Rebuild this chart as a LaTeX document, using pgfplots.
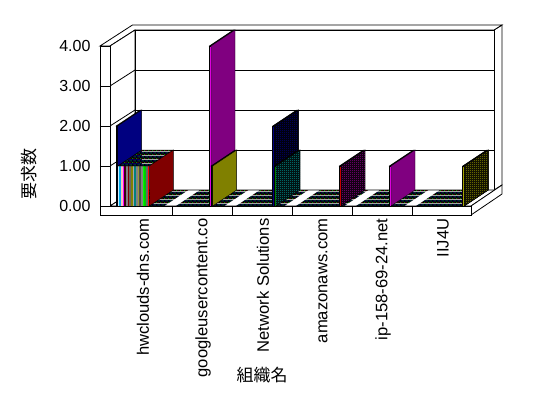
\documentclass[border=0pt]{standalone}
\usepackage{fontspec}
\setmainfont{Liberation Sans}
\newfontfamily\cjk{Noto Sans CJK JP}
\usepackage{pgfplots}
\pgfplotsset{compat=1.18}
\usetikzlibrary{patterns}

\pgfdeclarepatterninherentlycolored{floordots}{\pgfpointorigin}{\pgfpoint{4bp}{4bp}}{\pgfpoint{4bp}{4bp}}{%
  \pgfsetfillcolor{black}\pgfpathrectangle{\pgfpointorigin}{\pgfpoint{4bp}{4bp}}\pgfusepath{fill}%
  \pgfsetfillcolor{green!55!black}\pgfpathrectangle{\pgfpoint{0bp}{0bp}}{\pgfpoint{1bp}{1bp}}\pgfusepath{fill}%
  \pgfsetfillcolor{red!60!black}\pgfpathrectangle{\pgfpoint{2bp}{0bp}}{\pgfpoint{1bp}{1bp}}\pgfusepath{fill}%
  \pgfsetfillcolor{blue!70!black}\pgfpathrectangle{\pgfpoint{1bp}{2bp}}{\pgfpoint{1bp}{1bp}}\pgfusepath{fill}%
  \pgfsetfillcolor{teal!80!black}\pgfpathrectangle{\pgfpoint{3bp}{2bp}}{\pgfpoint{1bp}{1bp}}\pgfusepath{fill}%
}
\pgfdeclarepatternformonly{finecheck}{\pgfpointorigin}{\pgfpoint{2bp}{2bp}}{\pgfpoint{2bp}{2bp}}{%
  \pgfpathrectangle{\pgfpointorigin}{\pgfpoint{1bp}{1bp}}%
  \pgfpathrectangle{\pgfpoint{1bp}{1bp}}{\pgfpoint{1bp}{1bp}}%
  \pgfusepath{fill}}

\definecolor{cBlue}{HTML}{0000FF}
\definecolor{cNavy}{HTML}{000080}
\definecolor{cMag}{HTML}{FF00FF}
\definecolor{cPurp}{HTML}{800080}
\definecolor{cYel}{HTML}{FFFF00}
\definecolor{cOlive}{HTML}{808000}
\definecolor{cRed}{HTML}{FF0000}
\definecolor{cDRed}{HTML}{800000}
\definecolor{cTeal}{HTML}{008080}
\definecolor{cGreen}{HTML}{00A000}

\tikzset{
  frame/.style={draw=black, line width=0.8bp, fill=white},
  fl/.style={draw=black, line width=0.8bp},
  face/.style={draw=black, line width=0.4bp},
  stripe/.style={draw=none},
}

\begin{document}
\begin{tikzpicture}
\begin{axis}[
  x=1bp, y=40bp,
  xmin=100, xmax=503, ymin=-0.225, ymax=4.525,
  clip=false,
  axis line style={draw=none},
  tick style={draw=none},
  /pgf/number format/assume math mode=true,
  xtick={142,202,262,322,382,442},
  xticklabels={hwclouds-dns.com,googleusercontent.co,Network Solutions,amazonaws.com,ip-158-69-24.net,IIJ4U},
  xticklabel style={rotate=90, anchor=east, font=\fontsize{16.6bp}{18bp}\selectfont, yshift=-1bp},
  ytick={0,1,2,3,4},
  yticklabels={0.00,1.00,2.00,3.00,4.00},
  yticklabel style={anchor=east, font=\fontsize{16bp}{18bp}\selectfont, xshift=-6bp},
  xlabel={\cjk 組織名},
  ylabel={\cjk 要求数},
  xlabel style={at={(axis description cs:0.402,-0.842)}, anchor=center, font=\fontsize{17bp}{19bp}\selectfont},
  ylabel style={at={(axis description cs:-0.176,0.216)}, anchor=center, font=\fontsize{17bp}{19bp}\selectfont},
]
% ---- frame ----
\draw[frame] (axis cs:494,0.4) -- (axis cs:502,0.525) -- (axis cs:502,4.525) -- (axis cs:494,4.4) -- cycle;
\draw[frame] (axis cs:100,4) -- (axis cs:132.5,4.525) -- (axis cs:502,4.525) -- (axis cs:494,4.4) -- (axis cs:135,4.4) -- (axis cs:110,4) -- cycle;
\draw[frame] (axis cs:135,0.4) rectangle (axis cs:494,4.4);
\draw[fl] (axis cs:135,1.4) -- (axis cs:494,1.4);
\draw[fl] (axis cs:135,2.4) -- (axis cs:494,2.4);
\draw[fl] (axis cs:135,3.4) -- (axis cs:494,3.4);
\draw[frame] (axis cs:110,0) -- (axis cs:135,0.4) -- (axis cs:135,4.4) -- (axis cs:110,4) -- cycle;
\draw[fl] (axis cs:110,1) -- (axis cs:135,1.4);
\draw[fl] (axis cs:110,2) -- (axis cs:135,2.4);
\draw[fl] (axis cs:110,3) -- (axis cs:135,3.4);
\draw[frame] (axis cs:110,0) -- (axis cs:471,0) -- (axis cs:495,0.4) -- (axis cs:135,0.4) -- cycle;
\draw[frame] (axis cs:471,-0.225) -- (axis cs:471,0) -- (axis cs:502,0.525) -- (axis cs:502,0.3) -- cycle;
\draw[frame] (axis cs:100,-0.225) rectangle (axis cs:471,0);
\draw[fl] (axis cs:172,-0.225) -- (axis cs:172,0);
\draw[fl] (axis cs:232,-0.225) -- (axis cs:232,0);
\draw[fl] (axis cs:292,-0.225) -- (axis cs:292,0);
\draw[fl] (axis cs:352,-0.225) -- (axis cs:352,0);
\draw[fl] (axis cs:412,-0.225) -- (axis cs:412,0);
\draw[frame] (axis cs:100,0) rectangle (axis cs:110,4);
\draw[fl] (axis cs:100,1) -- (axis cs:110,1);
\draw[fl] (axis cs:100,2) -- (axis cs:110,2);
\draw[fl] (axis cs:100,3) -- (axis cs:110,3);

% ---- zero-height bars (flat tops on floor), one band per category ----
\addplot[pattern=floordots, draw=none] coordinates {(116,0)(164.33,0)(188.33,0.4)(140,0.4)} --cycle;
\addplot[pattern=floordots, draw=none] coordinates {(176,0)(224.33,0)(248.33,0.4)(200,0.4)} --cycle;
\addplot[pattern=floordots, draw=none] coordinates {(236,0)(284.33,0)(308.33,0.4)(260,0.4)} --cycle;
\addplot[pattern=floordots, draw=none] coordinates {(296,0)(344.33,0)(368.33,0.4)(320,0.4)} --cycle;
\addplot[pattern=floordots, draw=none] coordinates {(356,0)(404.33,0)(428.33,0.4)(380,0.4)} --cycle;
\addplot[pattern=floordots, draw=none] coordinates {(416,0)(464.33,0)(488.33,0.4)(440,0.4)} --cycle;

% ---- hwclouds-dns.com ----
% series 0 : 2
\addplot[fill=cBlue, face] coordinates {(116,0)(117.67,0)(117.67,2)(116,2)} --cycle;
\addplot[fill=black, face] coordinates {(116,2)(117.67,2)(141.67,2.4)(140,2.4)} --cycle;
\addplot[fill=cNavy, face] coordinates {(117.67,0)(141.67,0.4)(141.67,2.4)(117.67,2)} --cycle;
% series 1..19 : 1 each
\addplot[fill=white!80!cyan, stripe] coordinates {(117.67,0)(119.33,0)(119.33,1)(117.67,1)} --cycle;
\addplot[fill=cyan, stripe] coordinates {(119.33,0)(121,0)(121,1)(119.33,1)} --cycle;
\addplot[fill=pink, stripe] coordinates {(121,0)(122.67,0)(122.67,1)(121,1)} --cycle;
\addplot[fill=cMag, stripe] coordinates {(122.67,0)(124.33,0)(124.33,1)(122.67,1)} --cycle;
\addplot[fill=black!70!purple, stripe] coordinates {(124.33,0)(126,0)(126,1)(124.33,1)} --cycle;
\addplot[fill=gray, stripe] coordinates {(126,0)(127.67,0)(127.67,1)(126,1)} --cycle;
\addplot[fill=cDRed, stripe] coordinates {(127.67,0)(129.33,0)(129.33,1)(127.67,1)} --cycle;
\addplot[fill=black!60, stripe] coordinates {(129.33,0)(131,0)(131,1)(129.33,1)} --cycle;
\addplot[fill=cOlive, stripe] coordinates {(131,0)(132.67,0)(132.67,1)(131,1)} --cycle;
\addplot[fill=gray!70, stripe] coordinates {(132.67,0)(134.33,0)(134.33,1)(132.67,1)} --cycle;
\addplot[fill=cTeal, stripe] coordinates {(134.33,0)(136,0)(136,1)(134.33,1)} --cycle;
\addplot[fill=black!50, stripe] coordinates {(136,0)(137.67,0)(137.67,1)(136,1)} --cycle;
\addplot[fill=cOlive!80!white, stripe] coordinates {(137.67,0)(139.33,0)(139.33,1)(137.67,1)} --cycle;
\addplot[fill=black!70, stripe] coordinates {(139.33,0)(141,0)(141,1)(139.33,1)} --cycle;
\addplot[fill=gray, stripe] coordinates {(141,0)(142.67,0)(142.67,1)(141,1)} --cycle;
\addplot[fill=green, stripe] coordinates {(142.67,0)(144.33,0)(144.33,1)(142.67,1)} --cycle;
\addplot[fill=green!80!black, stripe] coordinates {(144.33,0)(146,0)(146,1)(144.33,1)} --cycle;
\addplot[fill=black!60, stripe] coordinates {(146,0)(147.67,0)(147.67,1)(146,1)} --cycle;
\addplot[fill=cRed, stripe] coordinates {(147.67,0)(149.33,0)(149.33,1)(147.67,1)} --cycle;
\addplot[pattern=floordots, face] coordinates {(117.67,1)(149.33,1)(173.33,1.4)(141.67,1.4)} --cycle;
\addplot[fill=cDRed, face] coordinates {(149.33,0)(173.33,0.4)(173.33,1.4)(149.33,1)} --cycle;

% ---- googleusercontent.co ----
\addplot[fill=cMag, face] coordinates {(209.33,0)(211,0)(211,4)(209.33,4)} --cycle;
\addplot[fill=black, face] coordinates {(209.33,4)(211,4)(235,4.4)(233.33,4.4)} --cycle;
\addplot[fill=cPurp, face] coordinates {(211,0)(235,0.4)(235,4.4)(211,4)} --cycle;
\addplot[fill=cYel, face] coordinates {(211,0)(212.67,0)(212.67,1)(211,1)} --cycle;
\addplot[fill=black, face] coordinates {(211,1)(212.67,1)(236.67,1.4)(235,1.4)} --cycle;
\addplot[fill=cOlive, face] coordinates {(212.67,0)(236.67,0.4)(236.67,1.4)(212.67,1)} --cycle;

% ---- Network Solutions ----
\addplot[fill=cNavy, face] coordinates {(272.67,0)(274.33,0)(274.33,2)(272.67,2)} --cycle;
\addplot[fill=black, face] coordinates {(272.67,2)(274.33,2)(298.33,2.4)(296.67,2.4)} --cycle;
\addplot[fill=black, face, postaction={pattern=finecheck, pattern color=cNavy}] coordinates {(274.33,0)(298.33,0.4)(298.33,2.4)(274.33,2)} --cycle;
\addplot[fill=cGreen, face] coordinates {(274.33,0)(276,0)(276,1)(274.33,1)} --cycle;
\addplot[fill=black, face] coordinates {(274.33,1)(276,1)(300,1.4)(298.33,1.4)} --cycle;
\addplot[fill=black, face, postaction={pattern=finecheck, pattern color=cTeal!80!cyan}] coordinates {(276,0)(300,0.4)(300,1.4)(276,1)} --cycle;

% ---- amazonaws.com ----
\addplot[fill=cRed, face] coordinates {(339.33,0)(341,0)(341,1)(339.33,1)} --cycle;
\addplot[fill=black, face] coordinates {(339.33,1)(341,1)(365,1.4)(363.33,1.4)} --cycle;
\addplot[fill=black, face, postaction={pattern=finecheck, pattern color=cPurp!80!magenta}] coordinates {(341,0)(365,0.4)(365,1.4)(341,1)} --cycle;

% ---- ip-158-69-24.net ----
\addplot[fill=cMag, face] coordinates {(389.33,0)(391,0)(391,1)(389.33,1)} --cycle;
\addplot[fill=black, face] coordinates {(389.33,1)(391,1)(415,1.4)(413.33,1.4)} --cycle;
\addplot[fill=cPurp, face] coordinates {(391,0)(415,0.4)(415,1.4)(391,1)} --cycle;

% ---- IIJ4U ----
\addplot[fill=cOlive!70!yellow, face] coordinates {(462.67,0)(464.33,0)(464.33,1)(462.67,1)} --cycle;
\addplot[fill=black, face] coordinates {(462.67,1)(464.33,1)(488.33,1.4)(486.67,1.4)} --cycle;
\addplot[fill=black, face, postaction={pattern=finecheck, pattern color=cOlive!80!yellow}] coordinates {(464.33,0)(488.33,0.4)(488.33,1.4)(464.33,1)} --cycle;

\coordinate (BL) at (axis cs:0,-4.8);
\coordinate (TR) at (axis cs:548,5.15);
\end{axis}
\path (BL) rectangle (TR);
\end{tikzpicture}
\end{document}
